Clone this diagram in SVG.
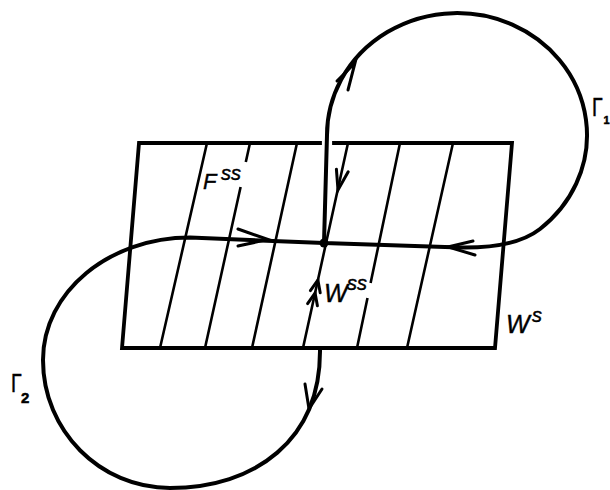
<svg xmlns="http://www.w3.org/2000/svg" width="610" height="490" viewBox="0 0 610 490">
<style>
.edge{fill:none;stroke:#000;stroke-width:3.8;stroke-linejoin:miter;stroke-linecap:square}
.hatch{fill:none;stroke:#000;stroke-width:2.6;stroke-linecap:butt}
.curve{fill:none;stroke:#000;stroke-width:4;stroke-linejoin:round;stroke-linecap:round}
.arr{fill:none;stroke:#000;stroke-width:3;stroke-linejoin:miter;stroke-linecap:round}
.lab{font-family:"Liberation Sans",Arial,sans-serif;font-style:italic;fill:#000;stroke:#000;stroke-width:0.4}
.gam{font-family:"Liberation Sans",Arial,sans-serif;fill:#000;stroke:#000;stroke-width:0.5}
</style>
<rect width="610" height="490" fill="#fff"/>
<g id="plane">
  <path class="edge" d="M320,143 L139,143 L122,348 L495,348 L512,143 L334,143"/>
  <path class="hatch" d="M207,143 L160,348 M250,143 L245.8,162 M240.6,187 L205,348 M297,143 L252,348 M348,143 L303,348 M400,143 L370.6,283 M367.5,298 L357,348 M453,143 L407,348"/>
</g>
<g id="connectors">
  <path id="gamma1" class="curve" d="M324,243 L327,135 A130,122 0 1 1 540,229 C520,244.6 490,248 460,247.5 L324,243"/>
  <path id="gamma2" class="curve" d="M324,243 L190,237.5 C109,237.5 43,292 43,360 C43,430.7 99.9,488 170,488 C255,488 321,440 320,349"/>
  <polyline class="arr" points="238,229 268,239.5 238,246"/>
  <polyline class="arr" points="473,241 448,247 475,255"/>
  <polyline class="arr" points="337,81 355,63 348,90"/>
  <polyline class="arr" points="336.4,169.2 338,190 348.2,171.8"/>
  <polyline class="arr" points="310.4,290.6 317.9,280 320.2,292.8"/>
  <polyline class="arr" points="307.6,303.6 315.1,293 317.4,305.8"/>
  <polyline class="arr" points="305,384 309,409 322,389"/>
</g>
<g id="fixed-point">
  <circle cx="324" cy="243" r="4.5" fill="#000"/>
</g>
<g id="labels">
  <text class="lab" x="203" y="189" font-size="22">F</text>
  <text class="lab" x="221" y="180" font-size="20">ss</text>
  <text class="lab" x="324" y="302" font-size="25">W</text>
  <text class="lab" x="347" y="290" font-size="20">ss</text>
  <text class="lab" x="506" y="333" font-size="25">W</text>
  <text class="lab" x="532" y="322" font-size="20">s</text>
  <text class="gam" transform="translate(592,116) scale(0.75,1)" font-size="26">Γ</text>
  <text class="gam" x="603.5" y="124" font-size="11" font-weight="bold">1</text>
  <text class="gam" transform="translate(11,392) scale(0.75,1)" font-size="26">Γ</text>
  <text class="gam" x="21" y="403" font-size="15" font-weight="bold">2</text>
</g>
</svg>
